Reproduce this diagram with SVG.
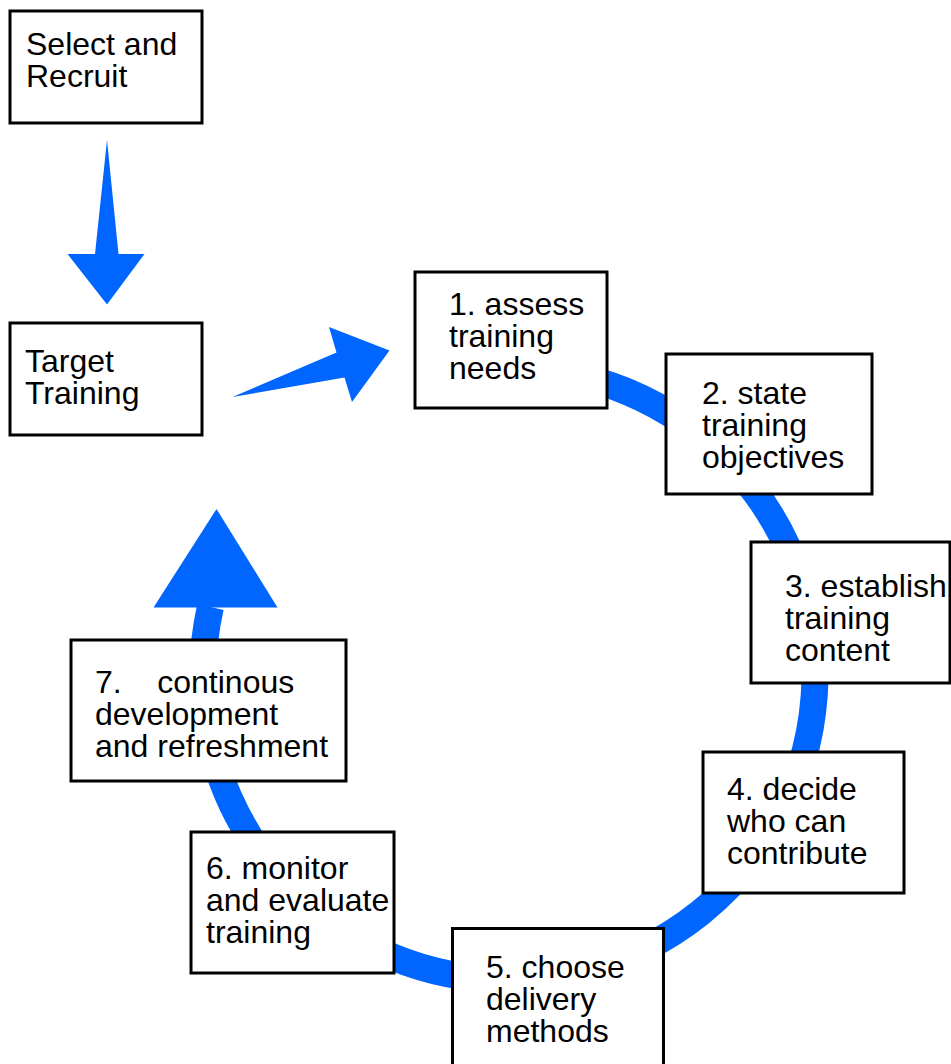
<svg xmlns="http://www.w3.org/2000/svg" width="951" height="1064" viewBox="0 0 951 1064">
<style>
.box{fill:#fff;stroke:#000;stroke-width:3}
.t{font-family:"Liberation Sans",Arial,sans-serif;font-size:32px;fill:#000;white-space:pre}
.blue{fill:#0066ff}
</style>
<rect width="951" height="1064" fill="#fff"/>
<g id="connectors">
<path d="M 509 368 A 306 306 0 1 1 210.4 607" fill="none" stroke="#0066ff" stroke-width="27"/>
<polygon class="blue" points="216.5,509 277.5,607.5 153.5,607.5"/>
<polygon class="blue" points="107,140 118.5,254 144.5,254 107,304.5 67.5,254 95,254"/>
<polygon class="blue" points="232.5,397 336.5,352.5 329,327 389.5,350.5 352,402 344.5,377.5"/>
</g>
<g id="select">
<rect class="box" x="10" y="11" width="192" height="112"/>
<text class="t" x="26" y="55">Select and</text>
<text class="t" x="26" y="87">Recruit</text>
</g>
<g id="target">
<rect class="box" x="10" y="323" width="192" height="112"/>
<text class="t" x="25" y="372">Target</text>
<text class="t" x="25" y="404">Training</text>
</g>
<g id="n1">
<rect class="box" x="415" y="272" width="192" height="136"/>
<text class="t" x="449" y="315">1. assess</text>
<text class="t" x="449" y="347">training</text>
<text class="t" x="449" y="379">needs</text>
</g>
<g id="n2">
<rect class="box" x="666" y="354" width="206" height="140"/>
<text class="t" x="702" y="404">2. state</text>
<text class="t" x="702" y="436">training</text>
<text class="t" x="702" y="468">objectives</text>
</g>
<g id="n3">
<rect class="box" x="751" y="542" width="199" height="141"/>
<text class="t" x="785" y="597">3. establish</text>
<text class="t" x="785" y="629">training</text>
<text class="t" x="785" y="661">content</text>
</g>
<g id="n4">
<rect class="box" x="703" y="752" width="201" height="141"/>
<text class="t" x="727" y="800">4. decide</text>
<text class="t" x="727" y="832">who can</text>
<text class="t" x="727" y="864">contribute</text>
</g>
<g id="n5">
<rect class="box" x="452.5" y="928.5" width="211" height="150"/>
<text class="t" x="486" y="978">5. choose</text>
<text class="t" x="486" y="1010">delivery</text>
<text class="t" x="486" y="1042">methods</text>
</g>
<g id="n6">
<rect class="box" x="191" y="832" width="203" height="141"/>
<text class="t" x="206" y="879">6. monitor</text>
<text class="t" x="206" y="911">and evaluate</text>
<text class="t" x="206" y="943">training</text>
</g>
<g id="n7">
<rect class="box" x="71" y="640" width="275" height="141"/>
<text class="t" x="95" y="693">7.    continous</text>
<text class="t" x="95" y="725">development</text>
<text class="t" x="95" y="757">and refreshment</text>
</g>
</svg>
